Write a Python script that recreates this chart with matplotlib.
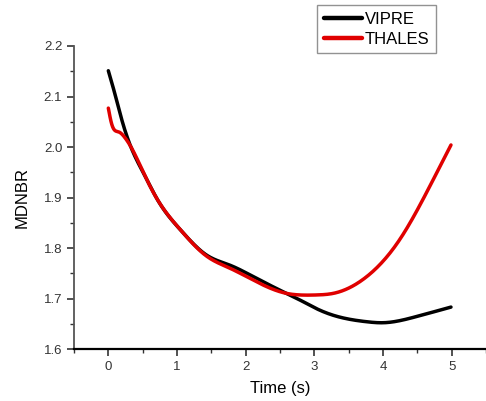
import numpy as np
import matplotlib
matplotlib.use("Agg")
import matplotlib.pyplot as plt
from matplotlib.ticker import MultipleLocator

plt.rcParams['font.family'] = ['Liberation Sans', 'DejaVu Sans']

# values
t_vipre = [0.0, 0.1, 0.2, 0.3, 0.54, 0.71, 1.05, 1.43, 1.77, 2.06, 2.55, 2.79, 3.03,
           3.27, 3.76, 4.0, 4.48, 4.99]
mdnbr_vipre = [2.151, 2.103, 2.052, 2.010, 1.941, 1.897, 1.836, 1.786, 1.766, 1.747,
               1.713, 1.697, 1.680, 1.667, 1.654, 1.652, 1.664, 1.683]

t_thales = [0.0, 0.05, 0.15, 0.25, 0.3, 0.54, 0.71, 1.05, 1.43, 1.77, 2.06, 2.6, 2.79,
            3.03, 3.27, 3.76, 4.24, 4.73, 4.99]
mdnbr_thales = [2.077, 2.045, 2.030, 2.017, 2.007, 1.941, 1.897, 1.836, 1.784, 1.760,
                1.740, 1.710, 1.707, 1.707, 1.710, 1.743, 1.816, 1.935, 2.004]


def smooth(x, y, n=400):
    # natural cubic spline through the read points
    x = np.asarray(x, float)
    y = np.asarray(y, float)
    k = len(x)
    h = np.diff(x)
    A = np.zeros((k, k))
    r = np.zeros(k)
    A[0, 0] = A[-1, -1] = 1
    for i in range(1, k - 1):
        A[i, i - 1] = h[i - 1]
        A[i, i] = 2 * (h[i - 1] + h[i])
        A[i, i + 1] = h[i]
        r[i] = 6 * ((y[i + 1] - y[i]) / h[i] - (y[i] - y[i - 1]) / h[i - 1])
    M = np.linalg.solve(A, r)
    xs = np.linspace(x[0], x[-1], n)
    idx = np.clip(np.searchsorted(x, xs) - 1, 0, k - 2)
    a = x[idx + 1] - xs
    b = xs - x[idx]
    hi = h[idx]
    ys = (M[idx] * a**3 + M[idx + 1] * b**3) / (6 * hi) \
        + (y[idx] / hi - M[idx] * hi / 6) * a + (y[idx + 1] / hi - M[idx + 1] * hi / 6) * b
    return xs, ys


fig = plt.figure(figsize=(4.86, 4.01), dpi=100)
ax = fig.add_axes([74 / 486, 52 / 401, 412 / 486, 303 / 401])

xv, yv = smooth(t_vipre, mdnbr_vipre)
xt, yt = smooth(t_thales, mdnbr_thales)
ax.plot(xv, yv, color='black', lw=2.5, label='VIPRE', solid_capstyle='round')
ax.plot(xt, yt, color='#e00000', lw=2.5, label='THALES', solid_capstyle='round')

ax.set_xlim(-0.5, 5.5)
ax.set_ylim(1.6, 2.2)
ax.xaxis.set_major_locator(MultipleLocator(1))
ax.xaxis.set_minor_locator(MultipleLocator(0.5))
ax.yaxis.set_major_locator(MultipleLocator(0.1))
ax.yaxis.set_minor_locator(MultipleLocator(0.05))
ax.yaxis.set_major_formatter(plt.FormatStrFormatter('%.1f'))

for side in ['top', 'right']:
    ax.spines[side].set_visible(False)
ax.spines['left'].set_color('#555555')
ax.spines['left'].set_linewidth(1.3)
ax.spines['bottom'].set_color('black')
ax.spines['bottom'].set_linewidth(1.6)

ax.tick_params(which='major', direction='out', length=5, width=1.2, labelsize=9.5,
               colors='#333333')
ax.tick_params(which='minor', direction='out', length=3, width=1.0, colors='#333333')

ax.set_xlabel('Time (s)', fontsize=12, labelpad=6)
ax.set_ylabel('MDNBR', fontsize=12, labelpad=10)

leg = fig.legend(loc='upper left', bbox_to_anchor=(317 / 486, 1 - 5 / 401),
                 fontsize=12, frameon=True, fancybox=False, handlelength=2.3,
                 handletextpad=0.15, borderpad=0.4, labelspacing=0.3, borderaxespad=0)
leg.get_frame().set_edgecolor('#777777')
leg.get_frame().set_linewidth(1.0)
for line in leg.get_lines():
    line.set_linewidth(3.2)

fig.savefig('out.png', dpi=100)
